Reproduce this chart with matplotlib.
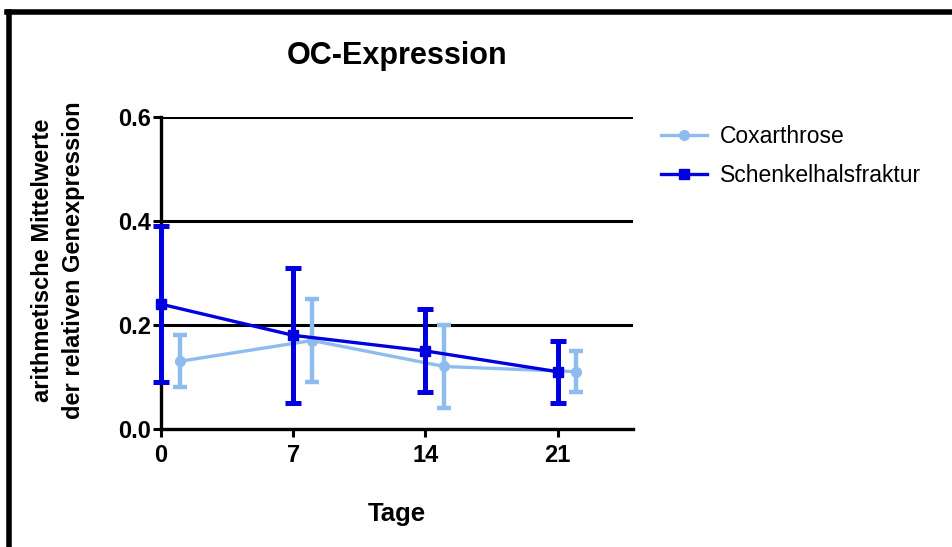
import numpy as np
import matplotlib.pyplot as plt
from matplotlib.lines import Line2D

plt.rcParams['font.family'] = ['Liberation Sans', 'DejaVu Sans']

days = [0, 7, 14, 21]

# Coxarthrose (plotted one day to the right)
cox_x = [1, 8, 15, 22]
cox_mean = [0.13, 0.17, 0.12, 0.11]
cox_low = [0.08, 0.09, 0.04, 0.07]
cox_high = [0.18, 0.25, 0.20, 0.15]

# Schenkelhalsfraktur
shf_x = [0, 7, 14, 21]
shf_mean = [0.24, 0.18, 0.15, 0.11]
shf_low = [0.09, 0.05, 0.07, 0.05]
shf_high = [0.39, 0.31, 0.23, 0.17]

light = '#8fbcef'
dark = '#0000e0'

fig = plt.figure(figsize=(9.52, 5.47), dpi=100)
ax = fig.add_axes([0.169, 0.216, 0.496, 0.570])

for yv in [0.2, 0.4, 0.6]:
    ax.axhline(yv, color='black', lw=2.2, zorder=1)

cox_err = [np.subtract(cox_mean, cox_low), np.subtract(cox_high, cox_mean)]
shf_err = [np.subtract(shf_mean, shf_low), np.subtract(shf_high, shf_mean)]

eb1 = ax.errorbar(cox_x, cox_mean, yerr=cox_err, color=light, lw=2.4, marker='o',
                  ms=7, capsize=5, capthick=3.2, elinewidth=3.2, zorder=3)
eb2 = ax.errorbar(shf_x, shf_mean, yerr=shf_err, color=dark, lw=2.4, marker='s',
                  ms=7, capsize=5.5, capthick=3.6, elinewidth=3.6, zorder=4)
for eb in (eb1, eb2):
    for art in eb.get_children():
        art.set_clip_on(False)

ax.set_xlim(0, 25)
ax.set_ylim(0, 0.6)
ax.set_xticks(days)
ax.set_yticks([0.0, 0.2, 0.4, 0.6])
ax.set_yticklabels(['0.0', '0.2', '0.4', '0.6'])
for s in ['top', 'right']:
    ax.spines[s].set_visible(False)
for s in ['left', 'bottom']:
    ax.spines[s].set_linewidth(2.4)
ax.tick_params(width=2.2, length=6, labelsize=17, pad=1)
ax.tick_params(axis='x', pad=5)
for lab in ax.get_xticklabels() + ax.get_yticklabels():
    lab.set_fontweight('bold')

ax.set_xlabel('Tage', fontsize=18.5, fontweight='bold', labelpad=25)
ax.set_ylabel('arithmetische Mittelwerte\nder relativen Genexpression', fontsize=17,
              fontweight='bold', linespacing=1.45)
ax.yaxis.set_label_coords(-0.16, 0.54)
ax.set_title('OC-Expression', fontsize=22, fontweight='bold', pad=38)

handles = [Line2D([], [], color=light, lw=2.4, marker='o', ms=7),
           Line2D([], [], color=dark, lw=2.4, marker='s', ms=7)]
ax.legend(handles, ['Coxarthrose', 'Schenkelhalsfraktur'], loc='upper left',
          bbox_to_anchor=(1.015, 1.04), frameon=False, fontsize=16.5,
          handlelength=2.0, handletextpad=0.6, labelspacing=0.7)

# figure border (top and left visible)
fig.add_artist(Line2D([0.0095, 0.0095], [0, 0.978], color='black', lw=4,
                      transform=fig.transFigure))
fig.add_artist(Line2D([0.0075, 1.0], [0.978, 0.978], color='black', lw=4,
                      transform=fig.transFigure))

fig.savefig('out.png', dpi=100)
